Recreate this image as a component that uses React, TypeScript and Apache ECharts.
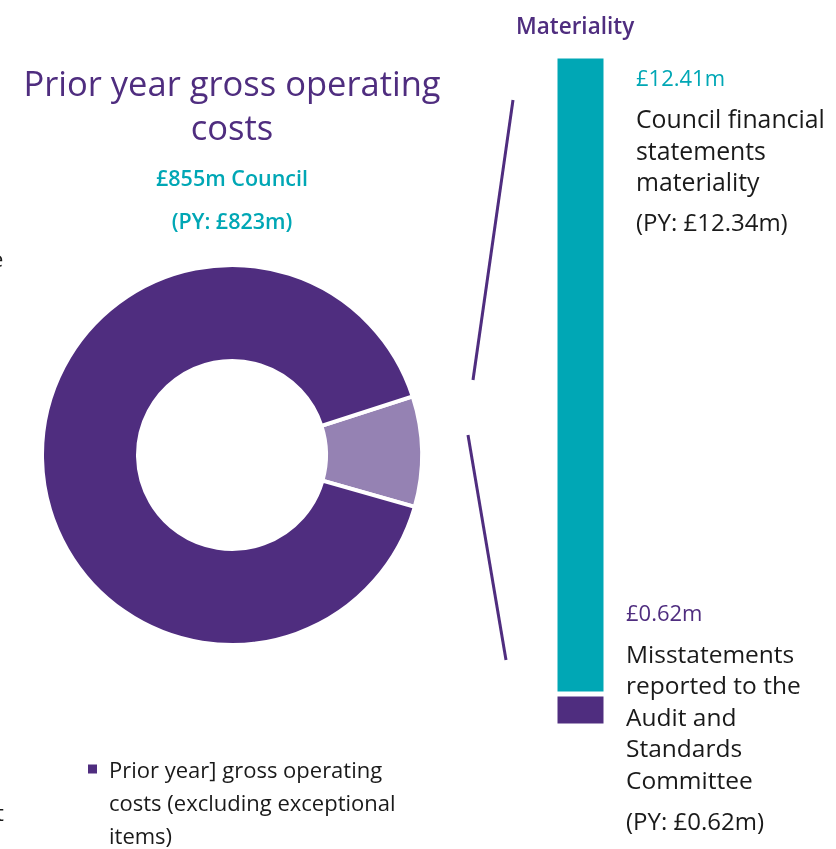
import React, { useEffect, useRef } from "react";
import * as echarts from "echarts";

const PURPLE = "#4f2d7f";
const LIGHT_PURPLE = "#9582b3";
const TEAL = "#00a7b5";
const TEXT = "#1a1a1a";
const FONT = "Open Sans";

const donutNames = [
  "Council financial statements materiality",
  "Prior year] gross operating costs (excluding exceptional items)",
];
const donutValues = [9.4, 90.6];
const donutColors = [LIGHT_PURPLE, PURPLE];

const barCategories = ["Materiality"];
const misstatementValues = [0.62];
const materialityValues = [12.41];

const titleLines = ["Prior year gross operating", "costs"];
const subLines = ["£855m Council", "(PY: £823m)"];
const upperLabel = "£12.41m";
const upperLines = ["Council financial", "statements", "materiality"];
const upperPY = "(PY: £12.34m)";
const lowerLabel = "£0.62m";
const lowerLines = ["Misstatements", "reported to the", "Audit and", "Standards", "Committee"];
const lowerPY = "(PY: £0.62m)";
const legendLines = ["Prior year] gross operating", "costs (excluding exceptional", "items)"];

export default function App() {
  const ref = useRef<HTMLDivElement>(null);
  useEffect(() => {
    if (!ref.current) return;
    const chart = echarts.init(ref.current, undefined, { renderer: "svg" });
    const lineText = (text: string, x: number, y: number, size: number, color: string, weight: any = "normal") => ({
      type: "text",
      x,
      y,
      style: { text, fill: color, fontFamily: FONT, fontSize: size, fontWeight: weight, verticalAlign: "middle", align: "left" },
    });
    const graphics: any[] = [
      lineText("Materiality", 516, 25, 22.5, PURPLE, 600),
      lineText(upperLabel, 636, 77, 22, TEAL),
      ...upperLines.map((t, i) => lineText(t, 636, 118 + i * 31.5, 24.8, TEXT)),
      lineText(upperPY, 636, 221, 24, TEXT),
      lineText(lowerLabel, 626, 612, 22, PURPLE),
      ...lowerLines.map((t, i) => lineText(t, 626, 653 + i * 31.5, 24.5, TEXT)),
      lineText(lowerPY, 626, 820, 24, TEXT),
      lineText("e", -9, 258, 22, TEXT),
      lineText("t", -4, 812, 22, TEXT),
      { type: "line", shape: { x1: 513, y1: 100, x2: 473, y2: 380 }, style: { stroke: PURPLE, lineWidth: 3 } },
      { type: "line", shape: { x1: 468, y1: 435, x2: 506, y2: 660 }, style: { stroke: PURPLE, lineWidth: 3 } },
    ];
    chart.setOption({
      animation: false,
      title: {
        text: titleLines.join("\n"),
        subtext: subLines.join("\n"),
        left: 232,
        top: 60,
        textAlign: "center",
        itemGap: 8,
        padding: 0,
        textStyle: { color: PURPLE, fontFamily: FONT, fontSize: 34.5, fontWeight: "normal", lineHeight: 44 },
        subtextStyle: { color: TEAL, fontFamily: FONT, fontSize: 21.5, fontWeight: 600, lineHeight: 43 },
      },
      legend: {
        data: [donutNames[1]],
        left: 86,
        top: 752.5,
        padding: 0,
        icon: "path://M0,0h10v10h-10z M0,69.99h0.01v0.01h-0.01z",
        itemWidth: 11,
        itemHeight: 77,
        selectedMode: false,
        formatter: () => legendLines.join("\n"),
        textStyle: { color: TEXT, fontFamily: FONT, fontSize: 22, lineHeight: 33, padding: [0, 0, 0, 6] },
      },
      grid: { left: 555, top: 56, width: 51, height: 670 },
      xAxis: { type: "category", data: barCategories, show: false },
      yAxis: { type: "value", min: 0, max: 13.03, show: false },
      series: [
        {
          type: "pie",
          center: [232, 455],
          radius: [94, 190],
          startAngle: 18,
          clockwise: true,
          label: { show: false },
          labelLine: { show: false },
          silent: true,
          itemStyle: { borderColor: "#fff", borderWidth: 4 },
          data: donutNames.map((n, i) => ({ name: n, value: donutValues[i], itemStyle: { color: donutColors[i] } })),
        },
        {
          type: "bar",
          name: "Misstatements",
          stack: "m",
          barWidth: "100%",
          data: misstatementValues,
          itemStyle: { color: PURPLE, borderColor: "#fff", borderWidth: 2.5 },
          silent: true,
        },
        {
          type: "bar",
          name: "Materiality",
          stack: "m",
          barWidth: "100%",
          data: materialityValues,
          itemStyle: { color: TEAL, borderColor: "#fff", borderWidth: 2.5 },
          silent: true,
        },
      ],
      graphic: graphics,
    });
    return () => chart.dispose();
  }, []);
  return <div ref={ref} style={{ position: "fixed", left: 0, top: 0, width: 836, height: 849 }} />;
}
